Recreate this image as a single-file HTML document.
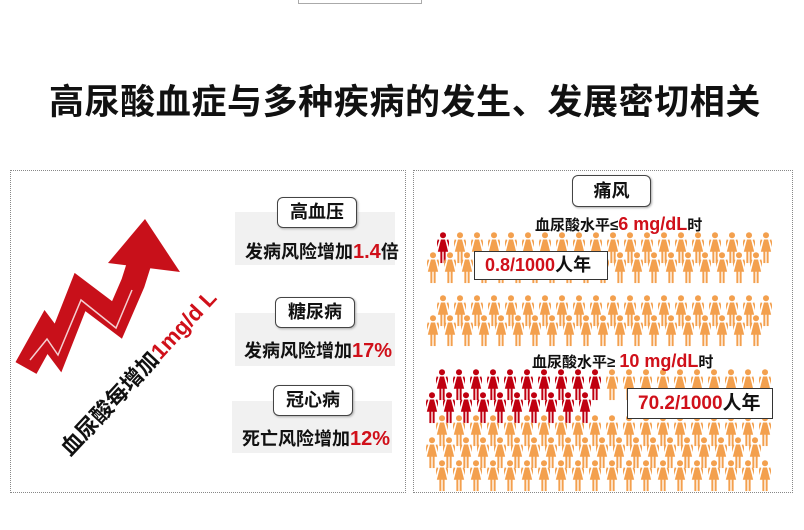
<!DOCTYPE html>
<html><head><meta charset="utf-8">
<style>
body{margin:0;width:804px;height:530px;background:#fff;position:relative;overflow:hidden;font-family:"Liberation Sans","Noto Sans CJK SC",sans-serif;font-weight:bold;color:#111}
.a{position:absolute;white-space:nowrap}
.panel{position:absolute;border:1px dotted #888}
.gray{position:absolute;background:#f1f1f1}
.lbl{position:absolute;background:#fff;border:1.5px solid #444;border-radius:6px;font-size:18px;text-align:center;box-shadow:1px 1px 2px #aaa}
.r{color:#d0101a}
.box{position:absolute;background:#fff;border:1.5px solid #333;font-size:18px;box-sizing:border-box;padding-left:10px}
</style></head><body>
<div class="a" style="left:298px;top:-2px;width:122px;height:4px;border:1px solid #aaa"></div>
<div class="a" style="left:0;width:810px;top:74px;text-align:center;font-size:35px;letter-spacing:0.6px">高尿酸血症与多种疾病的发生、发展密切相关</div>

<div class="panel" style="left:10px;top:170px;width:394px;height:321px"></div>
<div class="panel" style="left:413px;top:170px;width:378px;height:321px"></div>

<svg class="a" style="left:0;top:0" width="804" height="530">
<polyline points="26,368 46,332 58,348 80,292 117,320 133,283 146,242" fill="none" stroke="#c8101a" stroke-width="24" stroke-linejoin="miter"/>
<polyline points="30,360 47,339 58,355 81,300 116,328 132,290" fill="none" stroke="#fff" stroke-width="1.5" opacity="0.8"/>
<polygon points="145,219 108,263 180,272" fill="#c8101a"/>
</svg>
<div class="a" style="font-size:22px;transform:rotate(-47deg);transform-origin:0 0;top:440px;left:52px">血尿酸每增加<span class="r">1mg/d L</span></div>

<div class="gray" style="left:235px;top:212px;width:160px;height:53px"></div>
<div class="gray" style="left:235px;top:313px;width:160px;height:53px"></div>
<div class="gray" style="left:232px;top:401px;width:160px;height:52px"></div>
<div class="lbl" style="left:277px;top:197px;width:78px;height:29px;line-height:29px">高血压</div>
<div class="lbl" style="left:275px;top:297px;width:78px;height:29px;line-height:29px">糖尿病</div>
<div class="lbl" style="left:273px;top:385px;width:78px;height:29px;line-height:29px">冠心病</div>
<div class="a" style="left:245px;top:238px;font-size:18px">发病风险增加<span class="r" style="font-size:20px">1.4</span>倍</div>
<div class="a" style="left:244px;top:337px;font-size:18px">发病风险增加<span class="r" style="font-size:20px">17%</span></div>
<div class="a" style="left:242px;top:425px;font-size:18px">死亡风险增加<span class="r" style="font-size:20px">12%</span></div>

<svg id="ppl" class="a" style="left:0;top:0" width="804" height="530">
<defs><symbol id="p" viewBox="0 0 12 34"><circle cx="6" cy="3.5" r="3.2"/><path d="M3.8 8 H8.2 L11.5 21 H0.5 Z"/><rect x="0.4" y="8" width="1.8" height="10" transform="rotate(18 1 8)"/><rect x="9.8" y="8" width="1.8" height="10" transform="rotate(-18 11 8)"/><rect x="3.2" y="20" width="2.1" height="13"/><rect x="6.7" y="20" width="2.1" height="13"/></symbol></defs>
</svg>
<div class="lbl" style="left:572px;top:175px;width:77px;height:30px;line-height:30px">痛风</div>
<div class="a" style="left:535px;top:214px;font-size:15px">血尿酸水平≤<span class="r" style="font-size:18px">6 mg/dL</span>时</div>
<div class="a" style="left:532px;top:351px;font-size:15px">血尿酸水平≥ <span class="r" style="font-size:18px">10 mg/dL</span>时</div>
<div class="box" style="left:474px;top:251px;width:134px;height:29px;line-height:27px"><span class="r">0.8/1000</span>人年</div>
<div class="box" style="left:627px;top:388px;width:146px;height:31px;line-height:29px;font-size:19px"><span class="r">70.2/1000</span>人年</div>
<script>
var s=document.getElementById('ppl'),ns='http://www.w3.org/2000/svg';
function row(x0,y,n,redN){for(var i=0;i<n;i++){var u=document.createElementNS(ns,'use');u.setAttribute('href','#p');u.setAttribute('x',x0+i*17-6);u.setAttribute('y',y-3);u.setAttribute('width',12);u.setAttribute('height',32);u.setAttribute('fill',i<redN?'#c00010':'#f3a04e');s.appendChild(u);}}
row(443,235,20,1);row(433,255,20,0);row(443,298,20,0);row(433,318,20,0);
row(442,372,20,10);row(432,395,10,10);row(442,418,20,0);row(432,440,20,0);row(442,463,20,0);
</script>
</body></html>
